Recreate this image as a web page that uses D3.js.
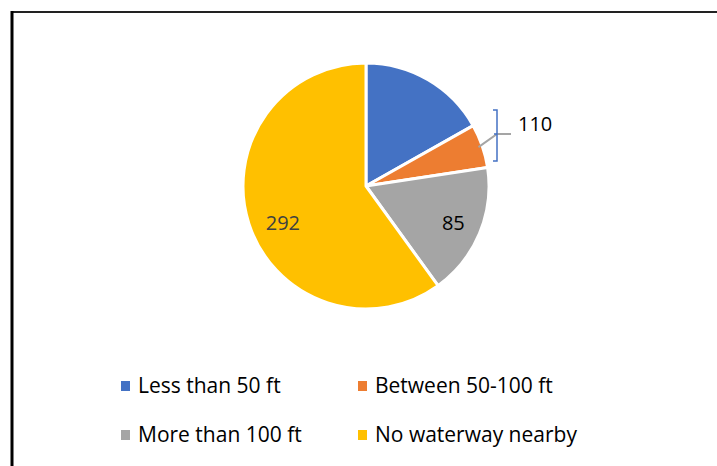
<!DOCTYPE html>
<html>
<head>
<meta charset="utf-8">
<script src="https://cdn.jsdelivr.net/npm/d3@7"></script>
<style>
  body { margin: 0; background: #fff; }
  text { font-family: "Open Sans", "Noto Sans", sans-serif; }
</style>
</head>
<body>
<svg id="chart"></svg>
<script>
var categories = ["Less than 50 ft", "Between 50-100 ft", "More than 100 ft", "No waterway nearby"];
var values = [82, 28, 85, 292];
var labels = ["", "110", "85", "292"];
var colors = ["#4472C4", "#ED7D31", "#A5A5A5", "#FFC000"];

var width = 717, height = 466;
var svg = d3.select("#chart").attr("width", width).attr("height", height);

// chart frame (only top and left edges are visible)
svg.append("line").attr("x1", 11).attr("x2", width).attr("y1", 12).attr("y2", 12)
    .attr("stroke", "#222").attr("stroke-width", 2);
svg.append("line").attr("x1", 12).attr("x2", 12).attr("y1", 11).attr("y2", height)
    .attr("stroke", "#000").attr("stroke-width", 3);

var cx = 366, cy = 186, radius = 123;

var pie = d3.pie().sort(null).value(function (d) { return d; });
var arcs = pie(values);
var arc = d3.arc().innerRadius(0).outerRadius(radius);

var g = svg.append("g").attr("transform", "translate(" + cx + "," + cy + ")");

g.selectAll("path")
    .data(arcs)
    .enter()
    .append("path")
    .attr("d", arc)
    .attr("fill", function (d, i) { return colors[i]; })
    .attr("stroke", "#fff")
    .attr("stroke-width", 3)
    .attr("stroke-linejoin", "round");

// inside labels for the bigger slices
var labelArc = d3.arc().innerRadius(radius * 0.77).outerRadius(radius * 0.77);
g.selectAll("text.inside")
    .data(arcs.filter(function (d) { return d.index >= 2; }))
    .enter()
    .append("text")
    .attr("class", "inside")
    .attr("transform", function (d) {
        var c = labelArc.centroid(d);
        if (d.index == 3) { c[0] += 7; c[1] += 8; }
        return "translate(" + c[0] + "," + c[1] + ")";
    })
    .attr("dy", "0.36em")
    .attr("text-anchor", "middle")
    .attr("font-size", 20)
    .attr("fill", function (d) { return d.index == 3 ? "#404040" : "#000"; })
    .text(function (d) { return labels[d.index]; });

// callout for the small orange slice
var small = arcs[1];
var mid = (small.startAngle + small.endAngle) / 2;
var px = Math.sin(mid) * (radius - 4), py = -Math.cos(mid) * (radius - 4);
var bx = 497 - cx, by = 134 - cy;
var callout = g.append("g");
callout.append("polyline")
    .attr("points", [[px, py], [bx, by], [bx + 14, by]].map(function (p) { return p.join(","); }).join(" "))
    .attr("fill", "none").attr("stroke", "#A5A5A5").attr("stroke-width", 2);
callout.append("path")
    .attr("d", "M" + (bx - 4) + "," + (110 - cy) + "H" + bx + "V" + (161 - cy) + "H" + (bx - 4)
        + "M" + (bx - 3) + "," + by + "H" + bx)
    .attr("fill", "none").attr("stroke", "#4472C4").attr("stroke-width", 1.5);
callout.append("text")
    .attr("x", bx + 21).attr("y", by - 3)
    .attr("font-size", 20).attr("fill", "#000")
    .text(labels[1]);

// legend, two columns
var legend = svg.append("g");
var item = legend.selectAll("g")
    .data(categories)
    .enter()
    .append("g")
    .attr("transform", function (d, i) {
        var x = (i % 2 == 0) ? 121 : 358;
        var y = (i < 2) ? 381 : 430;
        return "translate(" + x + "," + y + ")";
    });
item.append("rect")
    .attr("width", 9).attr("height", 10)
    .attr("fill", function (d, i) { return colors[i]; });
item.append("text")
    .attr("x", 17).attr("y", 12)
    .attr("font-size", 21)
    .attr("fill", "#000")
    .text(function (d) { return d; });
</script>
</body>
</html>
